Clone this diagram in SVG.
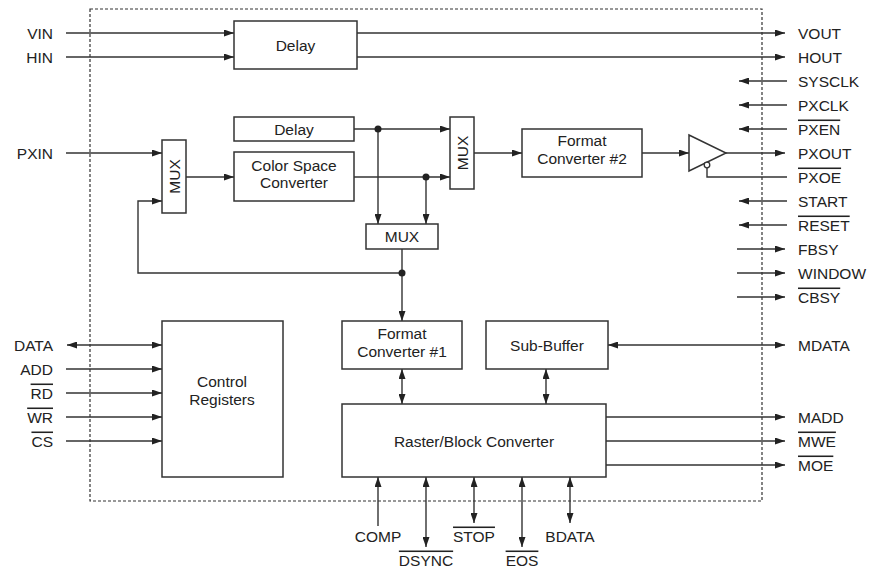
<svg xmlns="http://www.w3.org/2000/svg" width="870" height="571" viewBox="0 0 870 571">
<style>
text{font-family:"Liberation Sans",Arial,sans-serif;font-size:15.5px;fill:#222}
.box{fill:#fff;stroke:#333;stroke-width:1.5}
.w{fill:none;stroke:#333;stroke-width:1.4}
.a{marker-end:url(#ah)}
.b{marker-start:url(#ah);marker-end:url(#ah)}
.c{text-anchor:middle}
.e{text-anchor:end}
.ov{text-decoration:overline}
</style>
<defs>
<marker id="ah" markerUnits="userSpaceOnUse" markerWidth="10" markerHeight="7" refX="10" refY="3.5" orient="auto-start-reverse">
<path d="M0,0 L10,3.5 L0,7 z" fill="#222"/>
</marker>
</defs>
<rect x="90" y="9" width="672" height="492" fill="none" stroke="#333" stroke-width="1.2" stroke-dasharray="3,2"/>

<g id="connectors">
<path class="w a" d="M66,33 H234"/>
<path class="w a" d="M66,57 H234"/>
<path class="w a" d="M357,33 H785"/>
<path class="w a" d="M357,57 H785"/>
<path class="w a" d="M787,81 H739"/>
<path class="w a" d="M787,105 H739"/>
<path class="w a" d="M787,129 H739"/>
<path class="w a" d="M726,153 H785"/>
<path class="w" d="M707,168 V177 H787"/>
<path class="w a" d="M787,201 H739"/>
<path class="w a" d="M787,225 H739"/>
<path class="w a" d="M737,249 H785"/>
<path class="w a" d="M737,273 H785"/>
<path class="w a" d="M737,297 H785"/>
<path class="w a" d="M66,153 H162"/>
<path class="w a" d="M186,177 H234"/>
<path class="w a" d="M354,129 H450"/>
<path class="w a" d="M354,177 H450"/>
<path class="w a" d="M474,153 H522"/>
<path class="w a" d="M642,153 H689"/>
<path class="w a" d="M378,129 V224"/>
<path class="w a" d="M426,177 V224"/>
<path class="w a" d="M402,249 V321"/>
<path class="w a" d="M402,273 H138 V201 H162"/>
<circle cx="378" cy="129" r="3.5" fill="#222"/>
<circle cx="426" cy="177" r="3.5" fill="#222"/>
<circle cx="402" cy="273" r="3.5" fill="#222"/>
<path class="w b" d="M67,345 H162"/>
<path class="w a" d="M66,369 H162"/>
<path class="w a" d="M66,393 H162"/>
<path class="w a" d="M66,417 H162"/>
<path class="w a" d="M66,441 H162"/>
<path class="w b" d="M608,345 H785"/>
<path class="w b" d="M402,369 V404"/>
<path class="w b" d="M546,369 V404"/>
<path class="w a" d="M606,417 H785"/>
<path class="w a" d="M606,441 H785"/>
<path class="w a" d="M606,465 H785"/>
<path class="w a" d="M378,526 V477"/>
<path class="w b" d="M426,477 V547"/>
<path class="w b" d="M474,477 V523"/>
<path class="w b" d="M522,477 V547"/>
<path class="w b" d="M570,477 V523"/>
</g>

<g id="labels">
<text class="e" x="53" y="38.5">VIN</text>
<text class="e" x="53" y="62.5">HIN</text>
<text class="e" x="53" y="158.5">PXIN</text>
<text class="e" x="53" y="350.5">DATA</text>
<text class="e" x="53" y="374.5">ADD</text>
<text class="e ov" x="53" y="398.5">RD</text>
<text class="e ov" x="53" y="422.5">WR</text>
<text class="e ov" x="53" y="446.5">CS</text>
<text x="798" y="38.5">VOUT</text>
<text x="798" y="62.5">HOUT</text>
<text x="798" y="86.5">SYSCLK</text>
<text x="798" y="110.5">PXCLK</text>
<text class="ov" x="798" y="134.5">PXEN</text>
<text x="798" y="158.5">PXOUT</text>
<text class="ov" x="798" y="182.5">PXOE</text>
<text x="798" y="206.5">START</text>
<text class="ov" x="798" y="230.5">RESET</text>
<text x="798" y="254.5">FBSY</text>
<text x="798" y="278.5">WINDOW</text>
<text class="ov" x="798" y="302.5">CBSY</text>
<text x="798" y="350.5">MDATA</text>
<text x="798" y="422.5">MADD</text>
<text class="ov" x="798" y="446.5">MWE</text>
<text class="ov" x="798" y="470.5">MOE</text>
<text class="c" x="378" y="541.5">COMP</text>
<text class="c ov" x="426" y="565.5">DSYNC</text>
<text class="c ov" x="474" y="541.5">STOP</text>
<text class="c ov" x="522" y="565.5">EOS</text>
<text class="c" x="570" y="541.5">BDATA</text>
</g>

<g id="delay1"><rect class="box" x="234" y="21" width="123" height="48"/><text class="c" x="295.5" y="50.5">Delay</text></g>
<g id="delay2"><rect class="box" x="234" y="117" width="120" height="24"/><text class="c" x="294" y="134.5">Delay</text></g>
<g id="csc"><rect class="box" x="234" y="152" width="120" height="49"/><text class="c" x="294" y="170.5">Color Space</text><text class="c" x="294" y="187.5">Converter</text></g>
<g id="mux1"><rect class="box" x="162" y="140" width="24" height="73"/><text class="c" transform="translate(179.5,176.5) rotate(-90)">MUX</text></g>
<g id="mux2"><rect class="box" x="450" y="117" width="24" height="72"/><text class="c" transform="translate(467.5,153) rotate(-90)">MUX</text></g>
<g id="mux3"><rect class="box" x="366" y="224" width="72" height="25"/><text class="c" x="402" y="242">MUX</text></g>
<g id="fc2"><rect class="box" x="522" y="129" width="120" height="48"/><text class="c" x="582" y="145.5">Format</text><text class="c" x="582" y="164">Converter #2</text></g>
<g id="buffer"><path d="M689,135 L726,153 L689,171 Z" fill="#fff" stroke="#333" stroke-width="1.5"/><circle cx="707" cy="165" r="2.8" fill="#fff" stroke="#333" stroke-width="1.3"/></g>
<g id="ctrl"><rect class="box" x="162" y="321" width="121" height="156"/><text class="c" x="222" y="386.5">Control</text><text class="c" x="222" y="404.5">Registers</text></g>
<g id="fc1"><rect class="box" x="342" y="321" width="120" height="48"/><text class="c" x="402" y="338.5">Format</text><text class="c" x="402" y="356.5">Converter #1</text></g>
<g id="subbuf"><rect class="box" x="486" y="321" width="122" height="48"/><text class="c" x="547" y="350.5">Sub-Buffer</text></g>
<g id="rbc"><rect class="box" x="342" y="404" width="264" height="73"/><text class="c" x="474" y="446.5">Raster/Block Converter</text></g>
</svg>
